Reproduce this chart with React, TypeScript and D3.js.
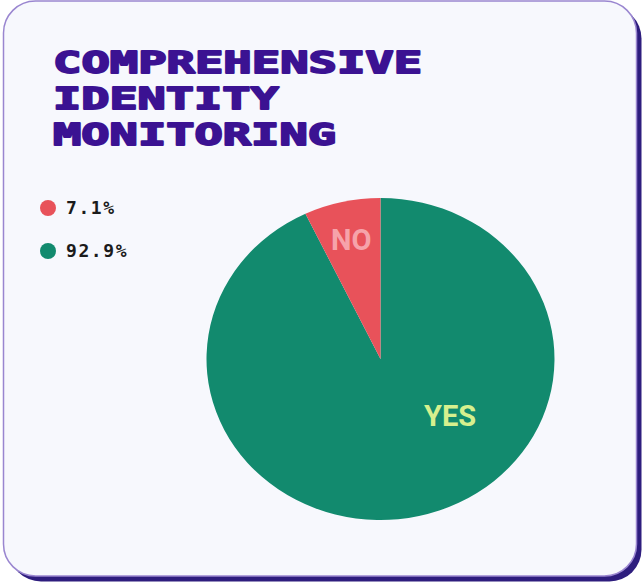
import React from "react";
import * as d3 from "d3";

const titleLines = ["COMPREHENSIVE", "IDENTITY", "MONITORING"];
const categories = ["YES", "NO"];
const values = [92.9, 7.1];
const legendOrder = ["NO", "YES"];
const colors: Record<string, string> = { YES: "#128a6e", NO: "#e8525a" };
const labelColors: Record<string, string> = { YES: "#d6f08e", NO: "#f6a3aa" };

const W = 644;
const H = 583;

export default function App() {
  const cx = 380.5;
  const cy = 359;
  const rx = 174;
  const ry = 161;
  const total = d3.sum(values);
  const data = categories.map((c, i) => ({ c, v: values[i] }));
  const pie = d3.pie<{ c: string; v: number }>().sort(null).value((d) => d.v);
  const arcs = pie(data);
  const arc = d3.arc<d3.PieArcDatum<{ c: string; v: number }>>().innerRadius(0).outerRadius(ry);
  const labelArc = d3.arc<d3.PieArcDatum<{ c: string; v: number }>>().innerRadius(ry * 0.76).outerRadius(ry * 0.76);
  const sx = rx / ry;
  const fmt = (v: number) => `${((v / total) * 100).toFixed(1)}%`;

  const legendY = d3.scalePoint<string>().domain(legendOrder).range([207, 250]);

  return (
    <svg width={W} height={H} style={{ position: "fixed", left: 0, top: 0 }}>
      <rect x={0} y={0} width={W} height={H} fill="#ffffff" />
      <rect x={9} y={6.5} width={632.5} height={575} rx={32} fill="#2e1d7e" />
      <rect x={3.5} y={1} width={633} height={575} rx={32} fill="#f7f8fd" stroke="#9a86d0" strokeWidth={1.5} />
      {titleLines.map((t, i) => (
        <text
          key={t}
          x={53}
          y={72.5 + i * 36}
          fontFamily="DejaVu Sans Mono"
          fontWeight="bold"
          fontSize={31}
          fill="#3b1292"
          stroke="#3b1292"
          strokeWidth={1.8}
          strokeLinejoin="round"
          textLength={t.length * 28.7 - 4}
          lengthAdjust="spacingAndGlyphs"
        >
          {t}
        </text>
      ))}
      {legendOrder.map((c) => {
        const v = values[categories.indexOf(c)];
        return (
          <g key={c} transform={`translate(0,${legendY(c)})`}>
            <circle cx={48} cy={1} r={8} fill={colors[c]} />
            <text
              x={66}
              y={7}
              fontFamily="DejaVu Sans Mono"
              fontWeight="bold"
              fontSize={18}
              letterSpacing={1.6}
              fill="#1b1b1b"
            >
              {fmt(v)}
            </text>
          </g>
        );
      })}
      <g transform={`translate(${cx},${cy}) scale(${sx},1)`}>
        {arcs.map((a) => (
          <path key={a.data.c} d={arc(a) || ""} fill={colors[a.data.c]} />
        ))}
      </g>
      {arcs.map((a) => {
        let px: number, py: number;
        if (a.data.c === "NO") {
          const [lx, ly] = labelArc.centroid(a);
          px = cx + lx * sx;
          py = cy + ly;
        } else {
          px = cx + rx * 0.4;
          py = cy + ry * 0.354;
        }
        return (
          <text
            key={a.data.c}
            x={px}
            y={py}
            textAnchor="middle"
            dominantBaseline="central"
            fontFamily="Roboto"
            fontWeight="bold"
            fontSize={29}
            fill={labelColors[a.data.c]}
          >
            {a.data.c}
          </text>
        );
      })}
    </svg>
  );
}
